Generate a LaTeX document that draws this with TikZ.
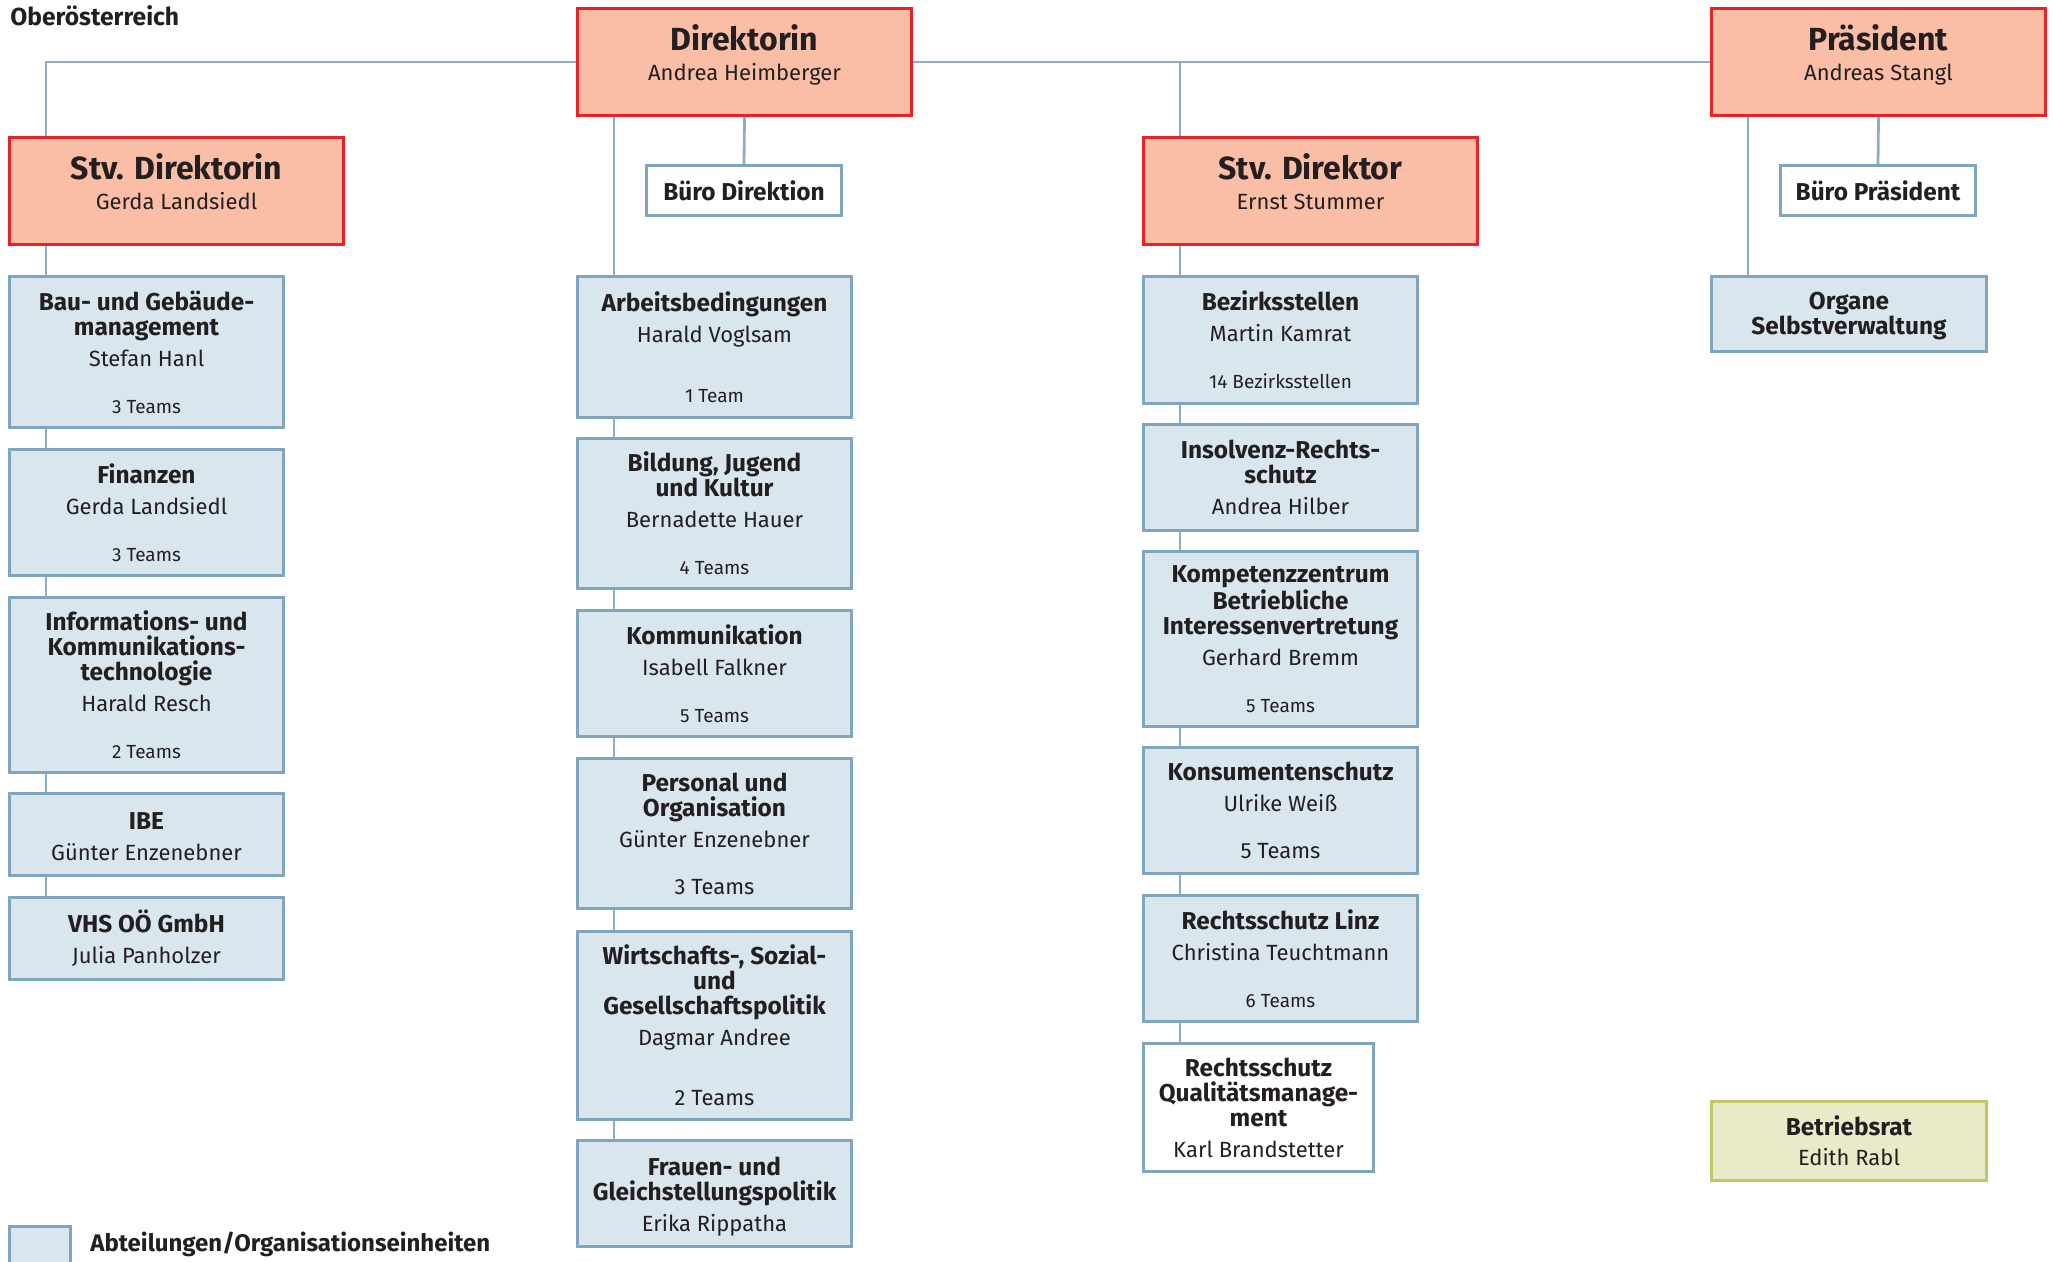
\documentclass[tikz,border=0pt]{standalone}
\usepackage{fontspec}
\setmainfont{Fira Sans}
\definecolor{headfill}{RGB}{249,190,165}
\definecolor{headline}{RGB}{236,32,40}
\definecolor{deptfill}{RGB}{218,230,238}
\definecolor{deptline}{RGB}{127,166,190}
\definecolor{wirecol}{RGB}{139,176,198}
\definecolor{councilfill}{RGB}{232,234,200}
\definecolor{councilline}{RGB}{196,200,100}
\definecolor{ink}{RGB}{35,31,32}
\newcommand{\headtitle}[1]{{\fontsize{16}{15}\selectfont\bfseries #1}}
\newcommand{\deptname}[1]{{\fontsize{12.2}{12.5}\selectfont\bfseries #1}}
\newcommand{\teams}[1]{{\fontsize{9.5}{12.5}\selectfont #1}}
\newcommand{\bigteams}[1]{{\fontsize{11}{12.5}\selectfont #1}}
\newcommand{\headstrut}{\rule[-9.8pt]{0pt}{9.8pt}}
\begin{document}
\begin{tikzpicture}[x=0.5pt, y=-0.5pt,
    box/.style={line width=1.4pt, anchor=north west, align=center, inner sep=0pt, text=ink,
      font=\fontsize{11}{12.5}\selectfont},
    head/.style={box, draw=headline, fill=headfill, minimum width=167.1pt, minimum height=53.6pt,
      font=\fontsize{11}{15}\selectfont},
    dept/.style={box, draw=deptline, fill=deptfill, minimum width=137.1pt},
    office/.style={box, draw=deptline, fill=white, minimum width=97.6pt, minimum height=25.1pt},
    council/.style={box, draw=councilline, fill=councilfill, minimum width=137.6pt, minimum height=39.6pt},
    link/.style={draw=wirecol, line width=1.4pt}]
    \useasboundingbox (0,0) rectangle (2053,1262);
    \node [anchor=west, inner sep=0pt, text=ink, font=\fontsize{12.3}{14}\selectfont\bfseries] (land) at (10,16) {Oberösterreich};
    % leitung
    \node [head] (dir) at (576,7) {\headtitle{Direktorin}\\ Andrea Heimberger\headstrut};
    \node [head] (praes) at (1710,7) {\headtitle{Präsident}\\ Andreas Stangl\headstrut};
    \node [head] (stvl) at (8,136) {\headtitle{Stv. Direktorin}\\ Gerda Landsiedl\headstrut};
    \node [head] (stvr) at (1142,136) {\headtitle{Stv. Direktor}\\ Ernst Stummer\headstrut};
    \node [office] (bdir) at (645,164) {\deptname{Büro Direktion}};
    \node [office] (bpraes) at (1779,164) {\deptname{Büro Präsident}};
    % linke spalte
    \node [dept, minimum height=75.6pt] (bau) at (8,275) {\deptname{Bau- und Gebäude-}\\ \deptname{management}\\[3pt] Stefan Hanl\\[11pt] \teams{3 Teams}};
    \node [dept, minimum height=63.1pt] (fin) at (8,448) {\deptname{Finanzen}\\[3pt] Gerda Landsiedl\\[11pt] \teams{3 Teams}};
    \node [dept, minimum height=87.6pt] (ikt) at (8,596) {\deptname{Informations- und}\\ \deptname{Kommunikations-}\\ \deptname{technologie}\\[3pt] Harald Resch\\[11pt] \teams{2 Teams}};
    \node [dept, minimum height=41.1pt] (ibe) at (8,792) {\deptname{\rule{0pt}{11pt}IBE}\\[3pt] Günter Enzenebner};
    \node [dept, minimum height=41.1pt] (vhs) at (8,896) {\deptname{\rule{0pt}{10pt}VHS OÖ GmbH}\\[3pt] Julia Panholzer};
    % mittlere spalte
    \node [dept, minimum height=70.6pt] (arb) at (576,275) {\deptname{Arbeitsbedingungen}\\[3pt] Harald Voglsam\\[17.5pt] \teams{1 Team}};
    \node [dept, minimum height=75.1pt] (bild) at (576,437) {\deptname{Bildung, Jugend}\\ \deptname{und Kultur}\\[3pt] Bernadette Hauer\\[11pt] \teams{4 Teams}};
    \node [dept, minimum height=63.1pt] (komm) at (576,609) {\deptname{Kommunikation}\\[3pt] Isabell Falkner\\[11pt] \teams{5 Teams}};
    \node [dept, minimum height=75.1pt] (pers) at (576,757) {\deptname{Personal und}\\ \deptname{Organisation}\\[3pt] Günter Enzenebner\\[11pt] \bigteams{3 Teams}};
    \node [dept, minimum height=94.1pt] (wirt) at (576,930) {\deptname{Wirtschafts-, Sozial-}\\ \deptname{und}\\ \deptname{Gesellschaftspolitik}\\[3pt] Dagmar Andree\\[17.5pt] \bigteams{2 Teams}};
    \node [dept, minimum height=53.1pt] (frau) at (576,1139) {\deptname{\rule{0pt}{12.8pt}Frauen- und}\\ \deptname{Gleichstellungspolitik}\\[3pt] Erika Rippatha};
    % rechte spalte
    \node [dept, minimum height=63.6pt] (bez) at (1142,275) {\deptname{Bezirksstellen}\\[3pt] Martin Kamrat\\[11pt] \teams{14 Bezirksstellen}};
    \node [dept, minimum height=53.1pt] (insol) at (1142,423) {\deptname{Insolvenz-Rechts-}\\ \deptname{schutz}\\[3pt] Andrea Hilber};
    \node [dept, minimum height=87.6pt] (kpz) at (1142,550) {\deptname{Kompetenzzentrum}\\ \deptname{Betriebliche}\\ \deptname{Interessenvertretung}\\[3pt] Gerhard Bremm\\[11pt] \teams{5 Teams}};
    \node [dept, minimum height=63.1pt] (kons) at (1142,746) {\deptname{Konsumentenschutz}\\[3pt] Ulrike Weiß\\[11pt] \bigteams{5 Teams}};
    \node [dept, minimum height=63.1pt] (linz) at (1142,894) {\deptname{Rechtsschutz Linz}\\[3pt] Christina Teuchtmann\\[11pt] \teams{6 Teams}};
    \node [dept, fill=white, minimum width=115.1pt, minimum height=64.1pt] (qm) at (1142,1042) {\deptname{Rechtsschutz}\\ \deptname{Qualitätsmanage-}\\ \deptname{ment}\\[3pt] Karl Brandstetter};
    % praesident
    \node [dept, minimum width=137.6pt, minimum height=37.6pt] (organe) at (1710,275) {\deptname{\rule{0pt}{11pt}Organe}\\ \deptname{Selbstverwaltung}};
    \node [council] (br) at (1710,1100) {\deptname{Betriebsrat}\\[2.5pt] Edith Rabl};
    % legende
    \node [dept, minimum width=30.6pt, minimum height=24pt] (legbox) at (8,1225) {};
    \node [anchor=west, inner sep=0pt, text=ink, font=\fontsize{12}{14}\selectfont\bfseries] (legtext) at (90,1244) {Abteilungen/Organisationseinheiten};
    % linien
    \draw [link] (dir.west) -| ([xshift=19pt]stvl.north west);
    \draw [link] (dir.east) -- (praes.west);
    \draw [link] ([xshift=19pt]stvr.north west) |- (dir.east);
    \draw [link] (dir.south) -- (bdir.north);
    \draw [link] (praes.south) -- (bpraes.north);
    \draw [link] ([xshift=19pt]praes.south west) -- ([xshift=19pt]organe.north west);
    \draw [link] ([xshift=19pt]stvl.south west) -- ([xshift=19pt]bau.north west);
    \draw [link] ([xshift=19pt]bau.south west) -- ([xshift=19pt]fin.north west);
    \draw [link] ([xshift=19pt]fin.south west) -- ([xshift=19pt]ikt.north west);
    \draw [link] ([xshift=19pt]ikt.south west) -- ([xshift=19pt]ibe.north west);
    \draw [link] ([xshift=19pt]ibe.south west) -- ([xshift=19pt]vhs.north west);
    \draw [link] ([xshift=19pt]dir.south west) -- ([xshift=19pt]arb.north west);
    \draw [link] ([xshift=19pt]arb.south west) -- ([xshift=19pt]bild.north west);
    \draw [link] ([xshift=19pt]bild.south west) -- ([xshift=19pt]komm.north west);
    \draw [link] ([xshift=19pt]komm.south west) -- ([xshift=19pt]pers.north west);
    \draw [link] ([xshift=19pt]pers.south west) -- ([xshift=19pt]wirt.north west);
    \draw [link] ([xshift=19pt]wirt.south west) -- ([xshift=19pt]frau.north west);
    \draw [link] ([xshift=19pt]stvr.south west) -- ([xshift=19pt]bez.north west);
    \draw [link] ([xshift=19pt]bez.south west) -- ([xshift=19pt]insol.north west);
    \draw [link] ([xshift=19pt]insol.south west) -- ([xshift=19pt]kpz.north west);
    \draw [link] ([xshift=19pt]kpz.south west) -- ([xshift=19pt]kons.north west);
    \draw [link] ([xshift=19pt]kons.south west) -- ([xshift=19pt]linz.north west);
    \draw [link] ([xshift=19pt]linz.south west) -- ([xshift=19pt]qm.north west);
\end{tikzpicture}
\end{document}
